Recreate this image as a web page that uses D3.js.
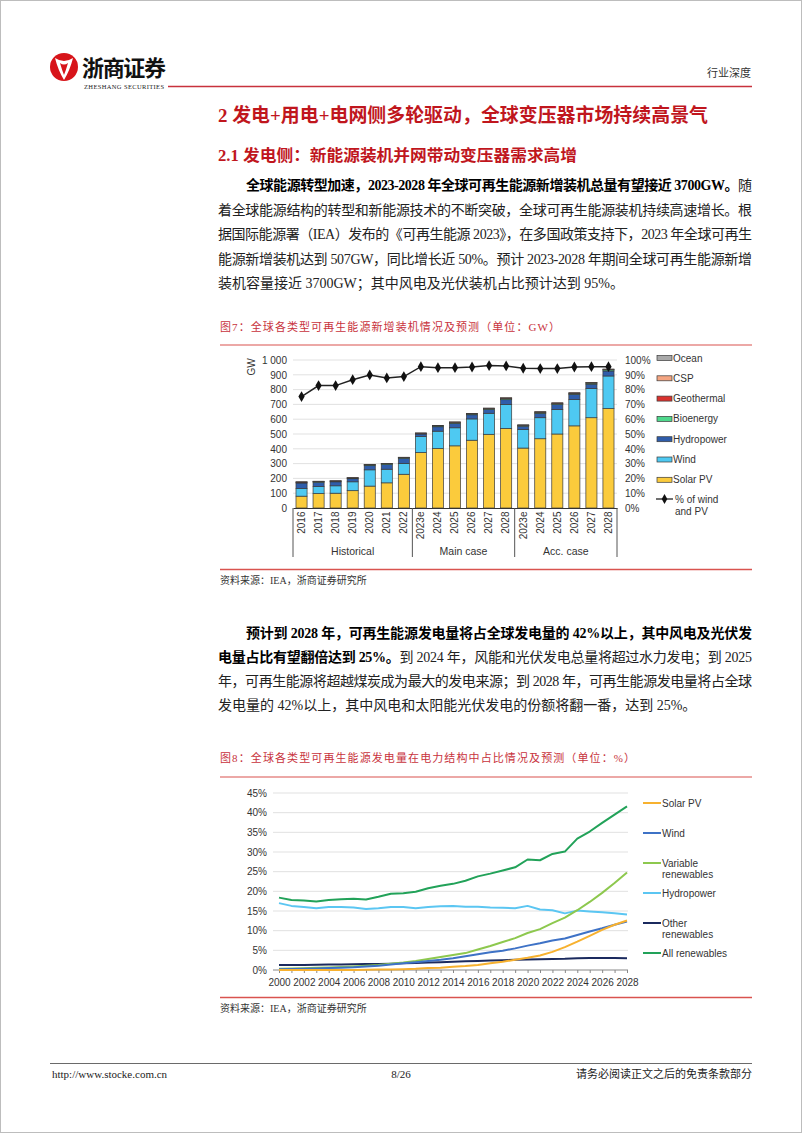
<!DOCTYPE html>
<html><head><meta charset="utf-8">
<script src="https://cdn.jsdelivr.net/npm/d3@7"></script>
<style>
html,body{margin:0;padding:0;background:#fff;}
svg{display:block;}
</style></head>
<body>
<svg id="page" width="802" height="1133"></svg>
<script>
// ---------------- DATA ----------------
// Figure 7: new renewable capacity additions (GW)
const cats1 = ["2016","2017","2018","2019","2020","2021","2022","2023e","2024","2025","2026","2027","2028","2023e","2024","2025","2026","2027","2028"];
const groupNames1 = ["Historical","Main case","Acc. case"];
const groupSizes1 = [7,6,6];
const solar1 = [80,98,100,117,148,170,228,375,402,420,458,498,538,405,468,500,555,610,672];
const wind1  = [52,47,50,60,110,92,73,108,117,122,144,142,162,125,142,166,178,198,220];
const hydro1 = [37,29,27,21,28,31,35,17,30,30,28,26,32,23,30,33,35,29,34];
const bio1   = [5,5,5,5,6,6,5,5,6,6,6,6,8,5,7,7,7,7,8];
const geo1   = [2,1,1,1,1,1,1,1,1,2,2,2,3,1,2,3,2,3,3];
const csp1   = [1,1,1,1,1,1,1,1,2,2,1,1,2,1,2,2,2,2,2];
const ocean1 = [0,0,0,0,0,0,0,0,0,0,0,0,0,2,0,0,0,0,0];
const share1 = [75.3,82.7,82.7,86.7,89.9,87.9,88.8,95.5,94.8,94.8,95.3,96.2,96.0,94.4,94.2,94.2,95.3,95.5,95.5];
const leftTicks1 = [0,100,200,300,400,500,600,700,800,900,1000];
const rightTicks1 = [0,10,20,30,40,50,60,70,80,90,100];
const seriesNames1 = ["Solar PV","Wind","Hydropower","Bioenergy","Geothermal","CSP","Ocean"];

// Figure 8: share of generation (%)
const years2 = [2000,2001,2002,2003,2004,2005,2006,2007,2008,2009,2010,2011,2012,2013,2014,2015,2016,2017,2018,2019,2020,2021,2022,2023,2024,2025,2026,2027,2028];
const solar2 = [0.0,0.0,0.0,0.0,0.0,0.0,0.0,0.05,0.1,0.1,0.2,0.3,0.5,0.6,0.8,1.0,1.3,1.7,2.1,2.6,3.1,3.7,4.6,5.8,7.2,8.7,10.2,11.5,12.6];
const wind2  = [0.2,0.25,0.3,0.4,0.5,0.6,0.7,0.9,1.1,1.4,1.7,2.0,2.3,2.6,3.0,3.5,4.0,4.5,4.9,5.5,6.2,6.8,7.5,8.0,8.9,9.8,10.6,11.5,12.3];
const varRen2 = [0.3,0.35,0.45,0.55,0.65,0.75,0.9,1.1,1.3,1.6,1.9,2.3,2.8,3.3,3.8,4.3,5.2,6.1,7.1,8.1,9.4,10.4,11.9,13.3,15.2,17.3,19.6,22.1,24.8];
const hydro2 = [17.0,16.3,16.0,15.7,16.0,16.0,15.9,15.5,15.7,16.0,16.0,15.7,16.0,16.2,16.3,16.1,16.1,15.9,15.8,15.7,16.3,15.4,15.2,14.4,15.1,14.9,14.7,14.4,14.1];
const other2 = [1.3,1.3,1.3,1.35,1.4,1.4,1.45,1.5,1.55,1.6,1.7,1.8,1.9,2.0,2.1,2.2,2.3,2.4,2.5,2.6,2.7,2.75,2.8,2.85,3.0,3.05,3.05,3.05,3.0];
const allRen2 = [18.4,17.8,17.7,17.4,17.8,18.0,18.1,17.9,18.6,19.4,19.5,19.9,20.8,21.4,21.9,22.7,23.8,24.5,25.3,26.1,28.1,27.9,29.5,30.1,33.4,35.2,37.4,39.5,41.6];
const seriesNames2 = ["Solar PV","Wind","Variable\nrenewables","Hydropower","Other\nrenewables","All renewables"];
const yTicks2 = [0,5,10,15,20,25,30,35,40,45];
const xLabelYears2 = [2000,2002,2004,2006,2008,2010,2012,2014,2016,2018,2020,2022,2024,2026,2028];

// ---------------- PAGE ----------------
const svg = d3.select("#page");
const RED = "#C0161D", CAPRED = "#C8323C";
const SERIF = "'Liberation Serif','Noto Sans CJK SC',serif";
const CJK = "'Noto Sans CJK SC',sans-serif";
const SANS = "'Liberation Sans',Arial,sans-serif";

svg.append("rect").attr("x",0.5).attr("y",0.5).attr("width",801).attr("height",1132).attr("fill","#fff").attr("stroke","#bdbdbd");

// header logo
const logo = svg.append("g");
logo.append("circle").attr("cx",64).attr("cy",67).attr("r",14).attr("fill","#D7141A");
logo.append("path").attr("d","M55,58 Q64,64 73,58 Q70,70 64,80 Q58,70 55,58 Z").attr("fill","#fff");
logo.append("path").attr("d","M60,63 Q64,66 68,63 Q66,70 64,75 Q62,70 60,63 Z").attr("fill","#D7141A");
logo.append("text").attr("x",82).attr("y",76).attr("font-family",CJK).attr("font-weight","bold").attr("font-size",22)
  .attr("fill","#111").attr("textLength",84).text("浙商证券");
logo.append("text").attr("x",84).attr("y",89).attr("font-family",SERIF).attr("font-size",6.5)
  .attr("fill","#222").attr("textLength",80).text("ZHESHANG SECURITIES");
svg.append("line").attr("x1",168).attr("x2",752).attr("y1",86.5).attr("y2",86.5).attr("stroke","#C8323C").attr("stroke-width",1.5);
svg.append("text").attr("x",751).attr("y",77).attr("text-anchor","end").attr("font-family",CJK).attr("font-size",11).attr("fill","#333").text("行业深度");

// titles
svg.append("text").attr("x",218).attr("y",122).attr("font-family",SERIF).attr("font-weight","bold").attr("font-size",19)
  .attr("fill",RED).attr("textLength",490).attr("lengthAdjust","spacingAndGlyphs").text("2 发电+用电+电网侧多轮驱动，全球变压器市场持续高景气");
svg.append("text").attr("x",218).attr("y",161).attr("font-family",SERIF).attr("font-weight","bold").attr("font-size",16)
  .attr("fill",RED).attr("textLength",359).attr("lengthAdjust","spacingAndGlyphs").text("2.1 发电侧：新能源装机并网带动变压器需求高增");

function para(lines, y0, lh){
  lines.forEach((ln,i)=>{
    const t = svg.append("text").attr("x",ln.x).attr("y",y0+i*lh).attr("font-family",SERIF).attr("font-size",14).attr("fill","#111");
    if(ln.full) t.attr("textLength",752-ln.x).attr("lengthAdjust","spacing");
    ln.segs.forEach(s=>t.append("tspan").attr("font-weight",s[1]?"bold":"normal").attr("fill",s[1]?"#000":"#222").text(s[0]));
  });
}
para([
  {x:246,full:true,segs:[["全球能源转型加速，2023-2028 年全球可再生能源新增装机总量有望接近 3700GW。",1],["随",0]]},
  {x:218,full:true,segs:[["着全球能源结构的转型和新能源技术的不断突破，全球可再生能源装机持续高速增长。根",0]]},
  {x:218,full:true,segs:[["据国际能源署（IEA）发布的《可再生能源 2023》，在多国政策支持下，2023 年全球可再生",0]]},
  {x:218,full:true,segs:[["能源新增装机达到 507GW，同比增长近 50%。预计 2023-2028 年期间全球可再生能源新增",0]]},
  {x:218,full:false,segs:[["装机容量接近 3700GW；其中风电及光伏装机占比预计达到 95%。",0]]}
], 190, 24.5);

para([
  {x:246,full:true,segs:[["预计到 2028 年，可再生能源发电量将占全球发电量的 42%以上，其中风电及光伏发",1]]},
  {x:218,full:true,segs:[["电量占比有望翻倍达到 25%。",1],["到 2024 年，风能和光伏发电总量将超过水力发电；到 2025",0]]},
  {x:218,full:true,segs:[["年，可再生能源将超越煤炭成为最大的发电来源；到 2028 年，可再生能源发电量将占全球",0]]},
  {x:218,full:false,segs:[["发电量的 42%以上，其中风电和太阳能光伏发电的份额将翻一番，达到 25%。",0]]}
], 638, 24);

function caption(txt, y, lineY, w){
  svg.append("text").attr("x",220).attr("y",y).attr("font-family",SERIF).attr("font-size",11).attr("fill",CAPRED)
    .attr("textLength",w).attr("lengthAdjust","spacing").text(txt);
  svg.append("line").attr("x1",220).attr("x2",752).attr("y1",lineY).attr("y2",lineY).attr("stroke","#D9534F").attr("stroke-width",1.2);
}
function source(y, lineY){
  svg.append("line").attr("x1",220).attr("x2",752).attr("y1",lineY).attr("y2",lineY).attr("stroke","#D9534F").attr("stroke-width",1.5);
  svg.append("text").attr("x",220).attr("y",y).attr("font-family",SERIF).attr("font-size",10).attr("fill","#333").text("资料来源：IEA，浙商证券研究所");
}
caption("图7：全球各类型可再生能源新增装机情况及预测（单位：GW）", 331, 345, 340);
source(584, 569.5);
caption("图8：全球各类型可再生能源发电量在电力结构中占比情况及预测（单位：%）", 762, 777, 415);
source(1012, 997.5);

// ---------------- FIGURE 7 ----------------
const g1 = svg.append("g").attr("font-family",SANS);
const x1 = d3.scaleBand().domain(d3.range(cats1.length)).range([293,617]).paddingInner(0.35).paddingOuter(0.175);
const y1 = d3.scaleLinear().domain([0,1000]).range([508,360]);
const yR = d3.scaleLinear().domain([0,100]).range([508,360]);
const colors1 = {"Solar PV":"#FBCB3C","Wind":"#4EC9F2","Hydropower":"#2F5DAA","Bioenergy":"#4ED88C","Geothermal":"#D9322E","CSP":"#F4A582","Ocean":"#A9A9A9"};
const rows1 = cats1.map((c,i)=>({"Solar PV":solar1[i],"Wind":wind1[i],"Hydropower":hydro1[i],"Bioenergy":bio1[i],"Geothermal":geo1[i],"CSP":csp1[i],"Ocean":ocean1[i]}));

g1.append("g").selectAll("line").data(leftTicks1.slice(1)).join("line")
  .attr("x1",293).attr("x2",617).attr("y1",d=>y1(d)).attr("y2",d=>y1(d)).attr("stroke","#D9D9D9").attr("stroke-width",0.8);

const axL = g1.append("g").attr("transform","translate(290,0)")
  .call(d3.axisLeft(y1).tickValues(leftTicks1).tickSize(0).tickPadding(3).tickFormat(d=>d===1000?"1 000":d));
axL.select(".domain").remove();
axL.selectAll("text").attr("font-size",10).attr("fill","#333").attr("font-family",SANS);

const axR = g1.append("g").attr("transform","translate(621,0)")
  .call(d3.axisRight(yR).tickValues(rightTicks1).tickSize(0).tickPadding(4).tickFormat(d=>d+"%"));
axR.select(".domain").remove();
axR.selectAll("text").attr("font-size",10).attr("fill","#333").attr("font-family",SANS);

g1.append("text").attr("transform","translate(255,367) rotate(-90)").attr("text-anchor","middle")
  .attr("font-size",10).attr("fill","#333").text("GW");

const stack1 = d3.stack().keys(seriesNames1)(rows1);
g1.append("g").selectAll("g").data(stack1).join("g").attr("fill",d=>colors1[d.key])
  .selectAll("rect").data(d=>d.map((v,i)=>({v,i}))).join("rect")
  .attr("x",d=>x1(d.i)).attr("width",x1.bandwidth())
  .attr("y",d=>y1(d.v[1])).attr("height",d=>Math.max(0,y1(d.v[0])-y1(d.v[1])))
  .attr("stroke","#3a3a3a").attr("stroke-width",0.7);

// share line
const line1 = d3.line().x((d,i)=>x1(i)+x1.bandwidth()/2).y(d=>yR(d));
g1.append("path").datum(share1).attr("d",line1).attr("fill","none").attr("stroke","#222").attr("stroke-width",1.5);
g1.append("g").selectAll("path").data(share1).join("path")
  .attr("transform",(d,i)=>`translate(${x1(i)+x1.bandwidth()/2},${yR(d)})`)
  .attr("d",d3.symbol(d3.symbolDiamond,34)).attr("fill","#111");

// x axis
const axB = g1.append("g").attr("transform","translate(0,508)")
  .call(d3.axisBottom(x1).tickSize(0).tickPadding(4).tickFormat(i=>cats1[i]));
axB.select(".domain").attr("stroke","#333").attr("stroke-width",1);
axB.selectAll("text").attr("font-size",10).attr("fill","#333").attr("font-family",SANS)
  .attr("transform","rotate(-90)").attr("text-anchor","end").attr("dx","-0.35em").attr("dy","0.33em").attr("y",0).attr("x",0);

// group separators and labels
let acc = 0;
const bounds = [x1.range()[0]];
groupSizes1.forEach(n=>{acc+=n; bounds.push(acc<cats1.length ? x1(acc)-x1.step()*x1.paddingInner()/2 : x1.range()[1]);});
g1.append("g").selectAll("line").data(bounds).join("line")
  .attr("x1",d=>d).attr("x2",d=>d).attr("y1",508).attr("y2",557).attr("stroke","#555").attr("stroke-width",1);
g1.append("g").selectAll("text").data(groupNames1).join("text")
  .attr("x",(d,i)=>(bounds[i]+bounds[i+1])/2).attr("y",555).attr("text-anchor","middle")
  .attr("font-size",10.5).attr("fill","#333").text(d=>d);

// legend 1
const legOrder1 = ["Ocean","CSP","Geothermal","Bioenergy","Hydropower","Wind","Solar PV"];
const lg1 = g1.append("g");
legOrder1.forEach((k,i)=>{
  const yy = 358 + i*20.3;
  lg1.append("rect").attr("x",657).attr("y",yy-2.5).attr("width",15).attr("height",5).attr("fill",colors1[k]).attr("stroke","#3a3a3a").attr("stroke-width",0.7);
  lg1.append("text").attr("x",673).attr("y",yy).attr("dy","0.35em").attr("font-size",10).attr("fill","#333").text(k);
});
lg1.append("line").attr("x1",656).attr("x2",673).attr("y1",499).attr("y2",499).attr("stroke","#222").attr("stroke-width",1.3);
lg1.append("path").attr("transform","translate(664.5,499)").attr("d",d3.symbol(d3.symbolDiamond,28)).attr("fill","#111");
lg1.append("text").attr("x",675).attr("y",499).attr("dy","0.35em").attr("font-size",10).attr("fill","#333").text("% of wind");
lg1.append("text").attr("x",675).attr("y",511).attr("dy","0.35em").attr("font-size",10).attr("fill","#333").text("and PV");

// ---------------- FIGURE 8 ----------------
const g2 = svg.append("g").attr("font-family",SANS);
const x2 = d3.scaleLinear().domain([2000,2028]).range([279,627]);
const y2 = d3.scaleLinear().domain([0,45]).range([970,793]);

g2.append("g").selectAll("line").data(yTicks2.slice(1)).join("line")
  .attr("x1",273).attr("x2",628).attr("y1",d=>y2(d)).attr("y2",d=>y2(d)).attr("stroke","#D9D9D9").attr("stroke-width",0.8);
const ax2L = g2.append("g").attr("transform","translate(270,0)")
  .call(d3.axisLeft(y2).tickValues(yTicks2).tickSize(0).tickPadding(3).tickFormat(d=>d+"%"));
ax2L.select(".domain").remove();
ax2L.selectAll("text").attr("font-size",10).attr("fill","#333").attr("font-family",SANS);

const ax2Minor = g2.append("g").attr("transform","translate(0,970)")
  .call(d3.axisBottom(x2).tickValues(years2).tickSize(3).tickFormat(""));
ax2Minor.select(".domain").attr("stroke","#888");
ax2Minor.selectAll(".tick line").attr("stroke","#888");
ax2Minor.select(".domain").attr("d","M273,0H628");
const ax2B = g2.append("g").attr("transform","translate(0,970)")
  .call(d3.axisBottom(x2).tickValues(xLabelYears2).tickSize(0).tickPadding(9).tickFormat(d=>d));
ax2B.select(".domain").remove();
ax2B.selectAll("text").attr("font-size",10).attr("fill","#333").attr("font-family",SANS);

const seriesData2 = [
  {name:"Other\nrenewables",vals:other2,color:"#1B2A5E"},
  {name:"Hydropower",vals:hydro2,color:"#5BC6F2"},
  {name:"All renewables",vals:allRen2,color:"#22A259"},
  {name:"Variable\nrenewables",vals:varRen2,color:"#8DC84E"},
  {name:"Wind",vals:wind2,color:"#3E72C6"},
  {name:"Solar PV",vals:solar2,color:"#F7B12F"}
];
const line2 = d3.line().x((d,i)=>x2(years2[i])).y(d=>y2(d));
g2.append("g").selectAll("path").data(seriesData2).join("path")
  .attr("d",d=>line2(d.vals)).attr("fill","none").attr("stroke",d=>d.color).attr("stroke-width",2).attr("stroke-linejoin","round");

const legY2 = [803,833,863,893,923,953];
const lg2 = g2.append("g");
seriesNames2.forEach((nm,i)=>{
  const s = seriesData2.find(d=>d.name===nm);
  lg2.append("line").attr("x1",643).attr("x2",661).attr("y1",legY2[i]).attr("y2",legY2[i]).attr("stroke",s.color).attr("stroke-width",2);
  nm.split("\n").forEach((part,j)=>{
    lg2.append("text").attr("x",662).attr("y",legY2[i]+j*11).attr("dy","0.35em").attr("font-size",10).attr("fill","#333").text(part);
  });
});

// ---------------- FOOTER ----------------
svg.append("line").attr("x1",50).attr("x2",752).attr("y1",1063.5).attr("y2",1063.5).attr("stroke","#444").attr("stroke-width",0.8);
svg.append("text").attr("x",52).attr("y",1078).attr("font-family",SERIF).attr("font-size",11).attr("fill","#222").text("http://www.stocke.com.cn");
svg.append("text").attr("x",401).attr("y",1078).attr("text-anchor","middle").attr("font-family",SERIF).attr("font-size",11).attr("fill","#222").text("8/26");
svg.append("text").attr("x",752).attr("y",1078).attr("text-anchor","end").attr("font-family",SERIF).attr("font-size",11).attr("fill","#222").text("请务必阅读正文之后的免责条款部分");
</script>
</body></html>
